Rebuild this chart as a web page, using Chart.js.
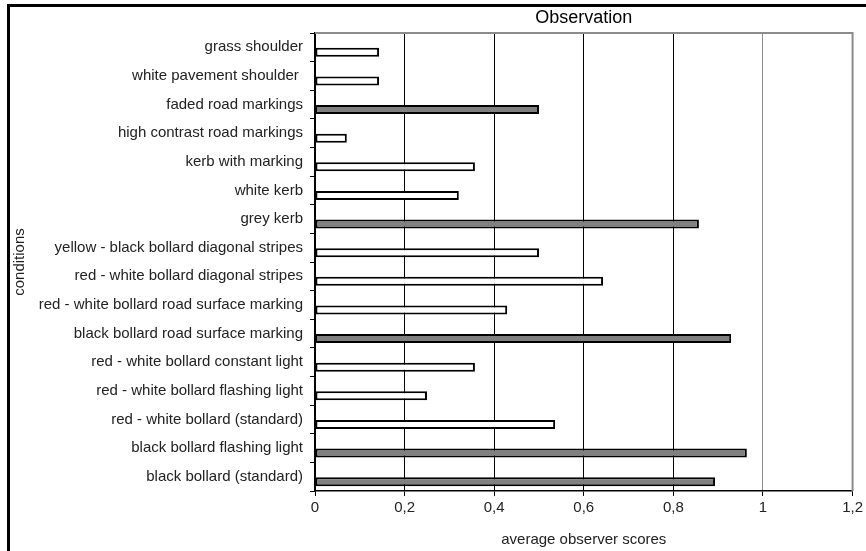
<!DOCTYPE html>
<html>
<head>
<meta charset="utf-8">
<script src="https://cdn.jsdelivr.net/npm/chart.js@4.4.0/dist/chart.umd.min.js"></script>
<style>
    html, body { margin: 0; padding: 0; overflow: hidden; background: #fff; }
    #frame { position: absolute; left: 7px; top: 4px; width: 880px; height: 580px; border: 3px solid #000; }
    #wrap { position: absolute; left: 0; top: 0; width: 866px; height: 551px; }
</style>
</head>
<body>
<div id="frame"></div>
<div id="wrap"><canvas id="obsChart" width="866" height="551"></canvas></div>
<script>
const conditions = [
    'grass shoulder',
    'white pavement shoulder ',
    'faded road markings',
    'high contrast road markings',
    'kerb with marking',
    'white kerb',
    'grey kerb',
    'yellow - black bollard diagonal stripes',
    'red - white bollard diagonal stripes',
    'red - white bollard road surface marking',
    'black bollard road surface marking',
    'red - white bollard constant light',
    'red - white bollard flashing light',
    'red - white bollard (standard)',
    'black bollard flashing light',
    'black bollard (standard)'
];
const scores = [0.143, 0.143, 0.5, 0.071, 0.357, 0.321, 0.857, 0.5, 0.643, 0.429, 0.929, 0.357, 0.25, 0.536, 0.964, 0.893];
const shaded = [false, false, true, false, false, false, true, false, false, false, true, false, false, false, true, true];
const emptySlot = conditions.map(() => null);
const xTickLabels = ['0', '0,2', '0,4', '0,6', '0,8', '1', '1,2'];

const FONT = "'Liberation Sans', Arial, sans-serif";
const TEXT = '#222';

// title centred over the plot area plus grey frame on top/right
const plotDecor = {
    id: 'plotDecor',
    afterDraw(chart) {
        const { ctx, chartArea } = chart;
        ctx.save();
        ctx.strokeStyle = '#8c8c8c';
        ctx.lineWidth = 2;
        ctx.beginPath();
        ctx.moveTo(chartArea.left, chartArea.top);
        ctx.lineTo(chartArea.right, chartArea.top);
        ctx.lineTo(chartArea.right, chartArea.bottom);
        ctx.stroke();
        ctx.fillStyle = '#000';
        ctx.font = '18px ' + FONT;
        ctx.textAlign = 'center';
        ctx.textBaseline = 'middle';
        ctx.fillText('Observation', (chartArea.left + chartArea.right) / 2, 18);
        ctx.restore();
    }
};

new Chart(document.getElementById('obsChart'), {
    type: 'bar',
    data: {
        labels: conditions,
        datasets: [{
            label: '',
            data: emptySlot
        }, {
            label: 'average observer scores',
            data: scores,
            backgroundColor: shaded.map(s => s ? '#808080' : '#ffffff'),
            borderColor: '#000',
            borderWidth: 2,
            borderSkipped: false
        }]
    },
    options: {
        indexAxis: 'y',
        responsive: false,
        animation: false,
        categoryPercentage: 0.7,
        barPercentage: 0.9,
        layout: { padding: { left: 0, right: 9, top: 33, bottom: 0 } },
        plugins: {
            legend: { display: false },
            title: { display: false },
            tooltip: { enabled: false }
        },
        scales: {
            x: {
                min: 0,
                max: 1.2,
                afterFit: scale => { scale.height = 60; },
                ticks: {
                    stepSize: 0.2,
                    padding: 3,
                    color: TEXT,
                    font: { family: FONT, size: 15 },
                    callback: (value, index) => xTickLabels[index]
                },
                grid: {
                    color: ctx => (ctx.tick && ctx.tick.value >= 0.99) ? '#8c8c8c' : '#000',
                    tickColor: '#000',
                    tickLength: 5,
                    lineWidth: 1
                },
                border: { color: '#000', width: 1.5 },
                title: {
                    display: true,
                    text: 'average observer scores',
                    color: TEXT,
                    font: { family: FONT, size: 15 },
                    padding: { top: 0, bottom: 2 }
                }
            },
            y: {
                afterFit: scale => { scale.width = 315; },
                ticks: {
                    padding: 7,
                    color: TEXT,
                    font: { family: FONT, size: 15 }
                },
                grid: {
                    drawOnChartArea: false,
                    offset: true,
                    tickLength: 5,
                    color: '#000'
                },
                border: { color: '#000', width: 1.5 },
                title: {
                    display: true,
                    text: 'conditions',
                    color: TEXT,
                    font: { family: FONT, size: 15 },
                    padding: { top: 11, bottom: 0 }
                }
            }
        }
    },
    plugins: [plotDecor]
});
</script>
</body>
</html>
